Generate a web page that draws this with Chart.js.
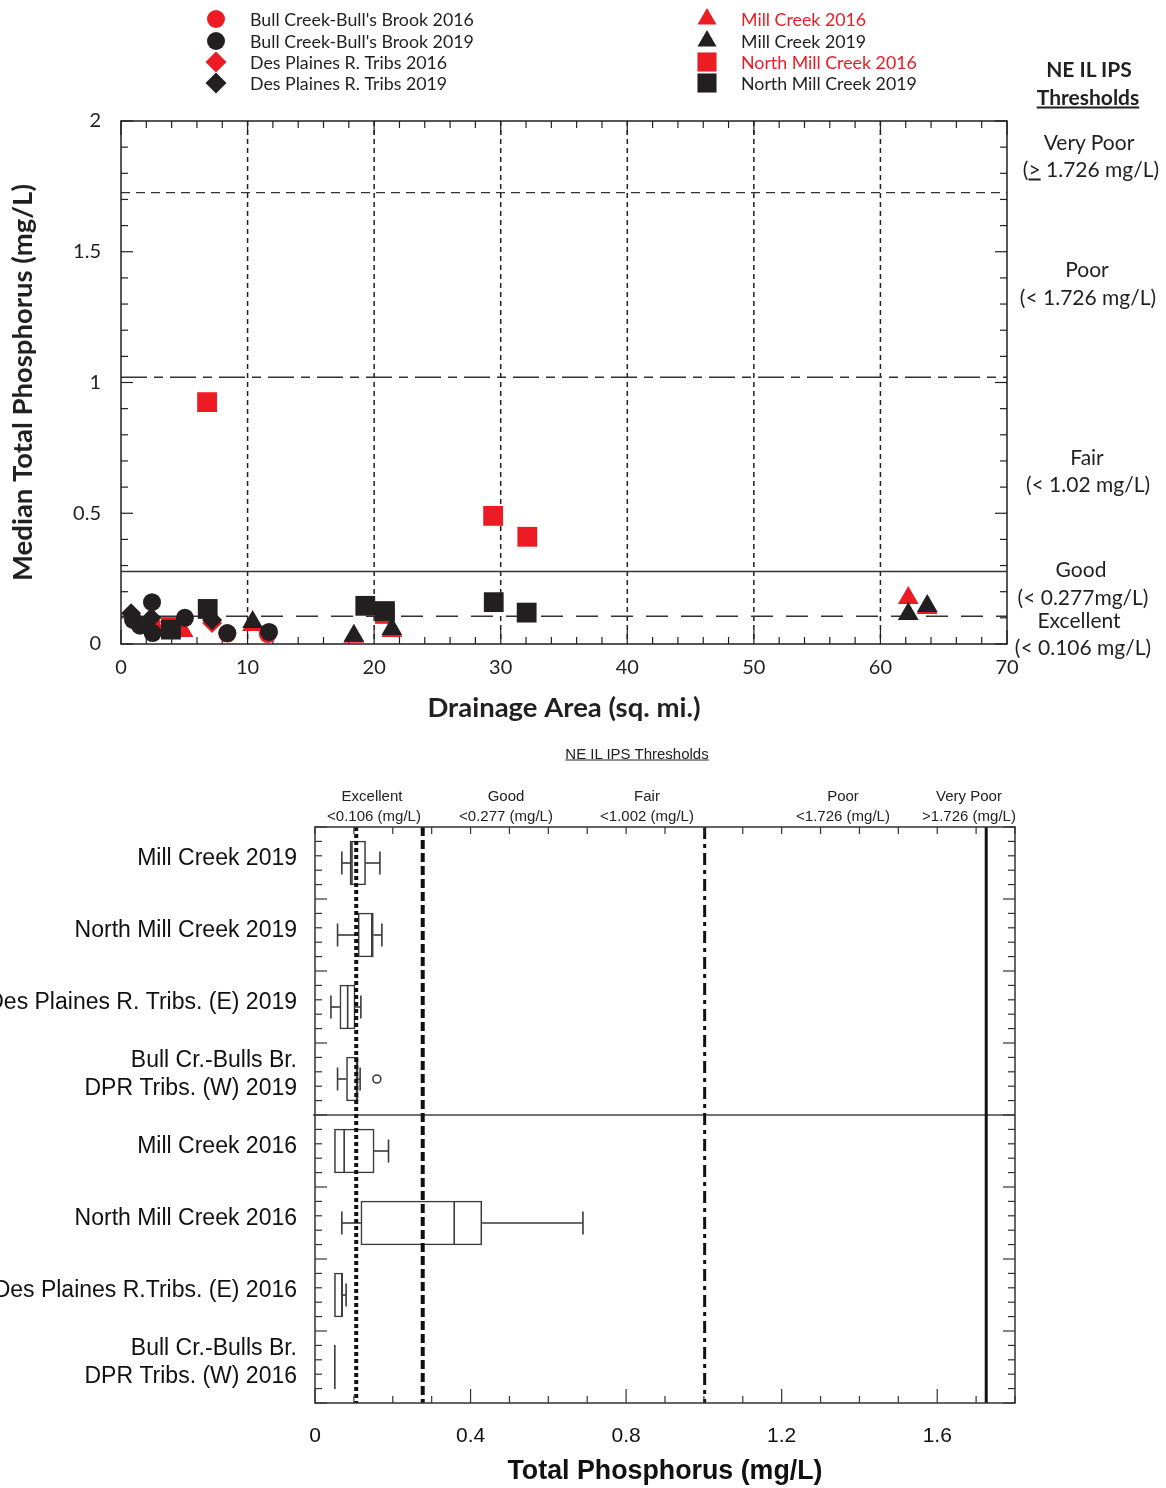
<!DOCTYPE html>
<html>
<head>
<meta charset="utf-8">
<script src="https://cdn.jsdelivr.net/npm/chart.js@4.4.1/dist/chart.umd.min.js"></script>
<style>
  body { margin: 0; background: #fff; width: 1166px; height: 1488px; position: relative; overflow: hidden; color: #231f20; }
  #topWrap { position: absolute; left: 0; top: 0; width: 1166px; height: 735px; }
  #boxWrap { position: absolute; left: 0; top: 720px; width: 1166px; height: 768px; }
  .lbl { position: absolute; transform: translate(-50%, -50%); white-space: nowrap; }
  .r { font-family: Lato, sans-serif; font-size: 21px; }
  .a { font-family: "Liberation Sans", Arial, sans-serif; font-size: 15px; color: #222; }
  .b { font-weight: bold; }
  .u { text-decoration: underline; }
</style>
</head>
<body>
<div id="topWrap"><canvas id="scatterChart"></canvas></div>
<div id="boxWrap"><canvas id="boxChart"></canvas></div>

<!-- right side threshold notes (top chart) -->
<div class="lbl r b" style="left:1089px;top:68px">NE IL IPS</div>
<div class="lbl r b u" style="left:1088px;top:96px">Thresholds</div>
<div class="lbl r" style="left:1089px;top:141px">Very Poor</div>
<div class="lbl r" style="left:1091px;top:168px">(<u>&gt;</u> 1.726 mg/L)</div>
<div class="lbl r" style="left:1087px;top:268px">Poor</div>
<div class="lbl r" style="left:1088px;top:296px">(&lt; 1.726 mg/L)</div>
<div class="lbl r" style="left:1087px;top:456px">Fair</div>
<div class="lbl r" style="left:1088px;top:483px">(&lt; 1.02 mg/L)</div>
<div class="lbl r" style="left:1081px;top:568px">Good</div>
<div class="lbl r" style="left:1083px;top:596px">(&lt; 0.277mg/L)</div>
<div class="lbl r" style="left:1079px;top:619px">Excellent</div>
<div class="lbl r" style="left:1083px;top:646px">(&lt; 0.106 mg/L)</div>

<!-- threshold header (box chart) -->
<div class="lbl a u" style="left:637px;top:753px">NE IL IPS Thresholds</div>
<div class="lbl a" style="left:372px;top:795px">Excellent</div>
<div class="lbl a" style="left:374px;top:815px">&lt;0.106 (mg/L)</div>
<div class="lbl a" style="left:506px;top:795px">Good</div>
<div class="lbl a" style="left:506px;top:815px">&lt;0.277 (mg/L)</div>
<div class="lbl a" style="left:647px;top:795px">Fair</div>
<div class="lbl a" style="left:647px;top:815px">&lt;1.002 (mg/L)</div>
<div class="lbl a" style="left:843px;top:795px">Poor</div>
<div class="lbl a" style="left:843px;top:815px">&lt;1.726 (mg/L)</div>
<div class="lbl a" style="left:969px;top:795px">Very Poor</div>
<div class="lbl a" style="left:969px;top:815px">&gt;1.726 (mg/L)</div>

<script>
// Colours
const RED = "#ed1c24";
const BLACK = "#231f20";

// Scatter data: drainage area (sq. mi.) and median TP (mg/L)
const bullCreek2016X = [2.5, 8.4, 11.6];
const bullCreek2016Y = [0.06, 0.04, 0.038];
const bullCreek2019X = [2.45, 5.05, 8.4, 11.7, 0.95, 2.5, 1.5];
const bullCreek2019Y = [0.16, 0.1, 0.042, 0.046, 0.092, 0.042, 0.07];
const desPlaines2016X = [2.4, 7.2];
const desPlaines2016Y = [0.084, 0.08];
const desPlaines2019X = [0.8, 2.4, 7.2];
const desPlaines2019Y = [0.118, 0.1, 0.092];
const millCreek2016X = [62.2, 63.7, 10.4, 18.4, 21.4, 4.9];
const millCreek2016Y = [0.176, 0.138, 0.073, 0.028, 0.05, 0.05];
const millCreek2019X = [62.2, 63.7, 10.4, 18.4, 21.4];
const millCreek2019Y = [0.115, 0.145, 0.084, 0.032, 0.057];
const northMill2016X = [6.8, 29.4, 32.1, 20.85, 3.95];
const northMill2016Y = [0.925, 0.49, 0.41, 0.115, 0.065];
const northMill2019X = [6.85, 19.3, 20.85, 29.45, 32.05, 3.95];
const northMill2019Y = [0.134, 0.146, 0.126, 0.16, 0.12, 0.055];

// Thresholds (mg/L)
const scatterThresholds = [1.726, 1.02, 0.277, 0.106];
const boxThresholds = [0.106, 0.277, 1.002, 1.726];

// Box plot data (mg/L)
const boxLabels = [
  "Mill Creek 2019",
  "North Mill Creek 2019",
  "Des Plaines R. Tribs. (E) 2019",
  ["Bull Cr.-Bulls Br.", "DPR Tribs. (W) 2019"],
  "Mill Creek 2016",
  "North Mill Creek 2016",
  "Des Plaines R.Tribs. (E) 2016",
  ["Bull Cr.-Bulls Br.", "DPR Tribs. (W) 2016"]
];
const boxMin = [0.069, 0.058, 0.041, 0.058, 0.05, 0.069, 0.05, 0.051];
const boxQ1 = [0.09, 0.111, 0.064, 0.081, 0.05, 0.118, 0.05, 0.051];
const boxMedian = [0.095, 0.146, 0.084, 0.107, 0.075, 0.358, 0.069, 0.051];
const boxQ3 = [0.13, 0.15, 0.103, 0.111, 0.152, 0.429, 0.071, 0.051];
const boxMax = [0.167, 0.172, 0.118, 0.116, 0.189, 0.689, 0.08, 0.051];
const outlierIndex = [3];
const outlierValue = [0.159];

// Helpers
const pts = (xs, ys) => xs.map((x, i) => ({ x: x, y: ys[i] }));

const drawMarker = (ctx, style, x, y, r, color) => {
  ctx.save();
  ctx.fillStyle = color;
  ctx.beginPath();
  if (style === "circle") {
    ctx.arc(x, y, r, 0, Math.PI * 2);
  } else if (style === "rectRot") {
    ctx.moveTo(x, y - r); ctx.lineTo(x + r, y); ctx.lineTo(x, y + r); ctx.lineTo(x - r, y);
  } else if (style === "triangle") {
    const h = r * Math.sqrt(3) / 2;
    ctx.moveTo(x, y - r); ctx.lineTo(x + h, y + r / 2); ctx.lineTo(x - h, y + r / 2);
  } else {
    const s = r * Math.SQRT1_2;
    ctx.rect(x - s, y - s, 2 * s, 2 * s);
  }
  ctx.closePath();
  ctx.fill();
  ctx.restore();
};

const line = (ctx, x1, y1, x2, y2) => {
  ctx.beginPath(); ctx.moveTo(x1, y1); ctx.lineTo(x2, y2); ctx.stroke();
};

// inward tick marks along an edge, values through the scale
const edgeTicks = (ctx, scale, from, to, step, majorEvery, minorLen, majorLen, edge, inward) => {
  const n = Math.round((to - from) / step);
  for (let i = 0; i <= n; i++) {
    const v = from + i * step;
    const len = i % majorEvery === 0 ? majorLen : minorLen;
    const p = scale.getPixelForValue(v);
    if (scale.isHorizontal()) line(ctx, p, edge, p, edge + inward * len);
    else line(ctx, edge, p, edge + inward * len, p);
  }
};

// Legend entries for the scatter chart
const legendItems = [
  { text: "Bull Creek-Bull's Brook 2016", style: "circle", r: 9, color: RED, textColor: BLACK, col: 0, row: 0 },
  { text: "Bull Creek-Bull's Brook 2019", style: "circle", r: 9, color: BLACK, textColor: BLACK, col: 0, row: 1 },
  { text: "Des Plaines R. Tribs 2016", style: "rectRot", r: 10.5, color: RED, textColor: BLACK, col: 0, row: 2 },
  { text: "Des Plaines R. Tribs 2019", style: "rectRot", r: 10.5, color: BLACK, textColor: BLACK, col: 0, row: 3 },
  { text: "Mill Creek 2016", style: "triangle", r: 11, color: RED, textColor: RED, col: 1, row: 0 },
  { text: "Mill Creek 2019", style: "triangle", r: 11, color: BLACK, textColor: BLACK, col: 1, row: 1 },
  { text: "North Mill Creek 2016", style: "rect", r: 13.5, color: RED, textColor: RED, col: 1, row: 2 },
  { text: "North Mill Creek 2019", style: "rect", r: 13.5, color: BLACK, textColor: BLACK, col: 1, row: 3 }
];

// Top chart decorations
const scatterDecor = {
  id: "scatterDecor",
  beforeDatasetsDraw(chart) {
    const { ctx, chartArea: a, scales: { x, y } } = chart;
    ctx.save();
    ctx.strokeStyle = BLACK;
    // vertical dashed grid
    ctx.lineWidth = 1.5;
    ctx.setLineDash([5, 4]);
    x.ticks.forEach((t) => {
      if (t.value > x.min && t.value < x.max) {
        const p = x.getPixelForValue(t.value);
        line(ctx, p, a.top, p, a.bottom);
      }
    });
    // threshold lines
    const dashes = [[9, 6], [26, 7, 9, 7], [], [22, 13]];
    scatterThresholds.forEach((v, i) => {
      ctx.setLineDash(dashes[i]);
      ctx.lineWidth = 1.4;
      ctx.strokeStyle = "#333";
      const p = y.getPixelForValue(v);
      line(ctx, a.left, p, a.right, p);
    });
    ctx.setLineDash([]);
    ctx.strokeStyle = BLACK;
    ctx.lineWidth = 1.5;
    ctx.strokeRect(a.left, a.top, a.right - a.left, a.bottom - a.top);
    ctx.lineWidth = 1.2;
    edgeTicks(ctx, x, 0, 70, 2, 5, 7, 14, a.bottom, -1);
    edgeTicks(ctx, x, 0, 70, 2, 5, 7, 14, a.top, 1);
    edgeTicks(ctx, y, 0, 2, 0.1, 5, 7, 12, a.left, 1);
    edgeTicks(ctx, y, 0, 2, 0.1, 5, 7, 12, a.right, -1);
    ctx.restore();
  },
  afterDraw(chart) {
    const ctx = chart.ctx;
    ctx.save();
    ctx.font = "17.8px Lato";
    ctx.textBaseline = "middle";
    const colMarkerX = [216, 707];
    const colTextX = [250, 741];
    const rowY = [19, 41, 62, 83];
    legendItems.forEach((it) => {
      drawMarker(ctx, it.style, colMarkerX[it.col], rowY[it.row], it.r, it.color);
      ctx.fillStyle = it.textColor;
      ctx.fillText(it.text, colTextX[it.col], rowY[it.row] + 1);
    });
    ctx.restore();
  }
};

const makeSet = (label, xs, ys, style, color, radius, order) => ({
  label: label,
  data: pts(xs, ys),
  pointStyle: style,
  pointRadius: radius,
  pointHoverRadius: radius,
  backgroundColor: color,
  borderColor: color,
  borderWidth: 0,
  order: order
});

const tickFont = { family: "Lato", size: 20 };

new Chart(document.getElementById("scatterChart"), {
  type: "scatter",
  data: {
    datasets: [
      makeSet("Bull Creek-Bull's Brook 2016", bullCreek2016X, bullCreek2016Y, "circle", RED, 9, 1),
      makeSet("Bull Creek-Bull's Brook 2019", bullCreek2019X, bullCreek2019Y, "circle", BLACK, 9, 0),
      makeSet("Des Plaines R. Tribs 2016", desPlaines2016X, desPlaines2016Y, "rectRot", RED, 10, 1),
      makeSet("Des Plaines R. Tribs 2019", desPlaines2019X, desPlaines2019Y, "rectRot", BLACK, 10, 0),
      makeSet("Mill Creek 2016", millCreek2016X, millCreek2016Y, "triangle", RED, 12, 1),
      makeSet("Mill Creek 2019", millCreek2019X, millCreek2019Y, "triangle", BLACK, 12, 0),
      makeSet("North Mill Creek 2016", northMill2016X, northMill2016Y, "rect", RED, 14, 1),
      makeSet("North Mill Creek 2019", northMill2019X, northMill2019Y, "rect", BLACK, 14, 0)
    ]
  },
  options: {
    responsive: true,
    maintainAspectRatio: false,
    animation: false,
    layout: { padding: { top: 121, right: 159, left: 0, bottom: 0 } },
    plugins: { legend: { display: false }, tooltip: { enabled: false } },
    scales: {
      x: {
        type: "linear",
        min: 0,
        max: 70,
        ticks: { stepSize: 10, padding: 12, color: BLACK, font: tickFont },
        grid: { display: false, drawTicks: false },
        border: { display: false },
        title: {
          display: true,
          text: "Drainage Area (sq. mi.)",
          color: BLACK,
          font: { family: "Lato", size: 27.5, weight: "bold" },
          padding: { top: 0, bottom: 10 }
        },
        afterFit: (s) => { s.height = 91; }
      },
      y: {
        type: "linear",
        min: 0,
        max: 2,
        ticks: {
          stepSize: 0.5,
          padding: 20,
          color: BLACK,
          font: tickFont,
          callback: (v) => String(Math.round(v * 10) / 10)
        },
        grid: { display: false, drawTicks: false },
        border: { display: false },
        title: {
          display: true,
          text: "Median Total Phosphorus (mg/L)",
          color: BLACK,
          font: { family: "Lato", size: 27.5, weight: "bold" },
          padding: { top: 7, bottom: 0 }
        },
        afterFit: (s) => { s.width = 121; }
      }
    }
  },
  plugins: [scatterDecor]
});

// Bottom chart decorations: medians, whiskers, outliers, thresholds, frame
const boxDecor = {
  id: "boxDecor",
  afterDatasetsDraw(chart) {
    const { ctx, chartArea: a, scales: { x, y } } = chart;
    const half = 22;
    const cap = 11.5;
    ctx.save();
    ctx.strokeStyle = "#3a3a3a";
    ctx.lineWidth = 1.6;
    boxLabels.forEach((lab, i) => {
      const cy = y.getPixelForValue(i);
      const pMin = x.getPixelForValue(boxMin[i]);
      const pQ1 = x.getPixelForValue(boxQ1[i]);
      const pMed = x.getPixelForValue(boxMedian[i]);
      const pQ3 = x.getPixelForValue(boxQ3[i]);
      const pMax = x.getPixelForValue(boxMax[i]);
      line(ctx, pMed, cy - half, pMed, cy + half);
      if (pMin < pQ1 - 0.5) {
        line(ctx, pMin, cy, pQ1, cy);
        line(ctx, pMin, cy - cap, pMin, cy + cap);
      }
      if (pMax > pQ3 + 0.5) {
        line(ctx, pQ3, cy, pMax, cy);
        line(ctx, pMax, cy - cap, pMax, cy + cap);
      }
    });
    outlierIndex.forEach((idx, k) => {
      ctx.beginPath();
      ctx.arc(x.getPixelForValue(outlierValue[k]), y.getPixelForValue(idx), 4, 0, Math.PI * 2);
      ctx.stroke();
    });
    // separator between 2019 and 2016
    ctx.lineWidth = 1.5;
    ctx.strokeStyle = "#444";
    const sep = (y.getPixelForValue(3) + y.getPixelForValue(4)) / 2;
    line(ctx, a.left - 2, sep, a.right, sep);
    // threshold lines
    const dashes = [[4, 3], [9, 4], [12, 5, 4, 5], []];
    const widths = [4, 4, 3, 3];
    ctx.strokeStyle = "#111";
    boxThresholds.forEach((v, i) => {
      ctx.setLineDash(dashes[i]);
      ctx.lineWidth = widths[i];
      const p = x.getPixelForValue(v);
      line(ctx, p, a.top, p, a.bottom);
    });
    ctx.setLineDash([]);
    // frame and ticks
    ctx.strokeStyle = "#333";
    ctx.lineWidth = 1.5;
    ctx.strokeRect(a.left, a.top, a.right - a.left, a.bottom - a.top);
    ctx.lineWidth = 1.2;
    edgeTicks(ctx, x, 0, 1.8, 0.1, 4, 7, 14, a.bottom, -1);
    edgeTicks(ctx, x, 0, 1.8, 0.1, 100, 7, 7, a.top, 1);
    const band = (a.bottom - a.top) / boxLabels.length;
    for (let k = 0; k <= boxLabels.length * 5; k++) {
      const py = a.top + (k * band) / 5;
      const len = k % 5 === 0 ? 12 : 7;
      line(ctx, a.left, py, a.left + len, py);
      line(ctx, a.right, py, a.right - len, py);
    }
    ctx.restore();
  }
};

new Chart(document.getElementById("boxChart"), {
  type: "bar",
  data: {
    labels: boxLabels,
    datasets: [{
      label: "IQR",
      data: boxQ1.map((q, i) => [q, boxQ3[i]]),
      backgroundColor: "#ffffff",
      borderColor: "#3a3a3a",
      borderWidth: 1.6,
      borderSkipped: false,
      barThickness: 44
    }]
  },
  options: {
    indexAxis: "y",
    responsive: true,
    maintainAspectRatio: false,
    animation: false,
    layout: { padding: { top: 107, right: 151, left: 0, bottom: 0 } },
    plugins: { legend: { display: false }, tooltip: { enabled: false } },
    scales: {
      x: {
        type: "linear",
        min: 0,
        max: 1.8,
        ticks: {
          stepSize: 0.4,
          padding: 21,
          color: "#111",
          font: { family: "Liberation Sans", size: 21 },
          callback: (v) => (v > 1.7 ? "" : String(Math.round(v * 10) / 10))
        },
        grid: { display: false, drawTicks: false },
        border: { display: false },
        title: {
          display: true,
          text: "Total Phosphorus (mg/L)",
          color: "#111",
          font: { family: "Liberation Sans", size: 26.8, weight: "bold" },
          padding: { top: 0, bottom: 0 }
        },
        afterFit: (s) => { s.height = 85; }
      },
      y: {
        ticks: {
          padding: 18,
          labelOffset: -4,
          color: "#111",
          font: { family: "Liberation Sans", size: 23, lineHeight: 1.22 }
        },
        grid: { display: false, drawTicks: false },
        border: { display: false },
        afterFit: (s) => { s.width = 315; }
      }
    }
  },
  plugins: [boxDecor]
});
</script>
</body>
</html>
